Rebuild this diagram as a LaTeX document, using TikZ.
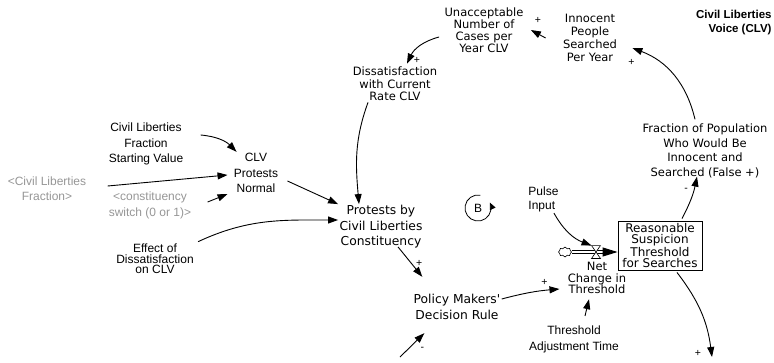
\documentclass[tikz,border=0pt]{standalone}
\usepackage{fontspec}
\setmainfont{Liberation Sans}
\newfontfamily\comic{DejaVu Sans}
\usetikzlibrary{arrows.meta, shapes.symbols}
\definecolor{shadow}{RGB}{150,150,150}

\begin{document}
\begin{tikzpicture}[x=1pt, y=1pt, >={Triangle[length=10pt,width=7pt]}, line width=0.9pt,
    var/.style={align=center, inner sep=1pt, font=\fontsize{12}{#1}\selectfont},
    var/.default=15.5,
    cvar/.style={align=center, inner sep=1pt, font=\comic\fontsize{11.5}{#1}\selectfont},
    cvar/.default=12.5,
    ghost/.style={var=#1, text=shadow},
    ghost/.default=15,
    pol/.style={inner sep=0pt, font=\fontsize{10.5}{10.5}\selectfont},
    pipe/.style={double, double distance=2pt, line width=0.6pt}]

    \useasboundingbox (0,0) rectangle (774,-362);

    \node[cvar=12] (unacc) at (484,-30) {Unacceptable\\Number of\\Cases per\\Year CLV};
    \node[cvar=13] (innoc) at (590,-38) {Innocent\\People\\Searched\\Per Year};
    \node[align=right, anchor=east, inner sep=1pt, font=\bfseries\fontsize{11.5}{14}\selectfont] (title) at (773,-23) {Civil Liberties\\Voice (CLV)};
    \node[cvar] (dissat) at (395,-84) {Dissatisfaction\\with Current\\Rate CLV};
    \node[cvar, font=\comic\fontsize{12.3}{15.5}\selectfont] (protest) at (381,-227) {Protests by\\Civil Liberties\\Constituency};
    \node[var] (startval) at (146,-144) {Civil Liberties\\Fraction\\Starting Value};
    \node[var] (clvnorm) at (256,-173) {CLV\\Protests\\Normal};
    \node[ghost] (clfrac) at (47,-189) {<Civil Liberties\\Fraction>};
    \node[ghost=16] (switch) at (150,-205) {<constituency\\switch (0 or 1)>};
    \node[var=10.5] (effect) at (155,-259) {Effect of\\Dissatisfaction\\on CLV};
    \node[var] (loopB) at (478,-208) {B};
    \node[var=14, anchor=west, align=left] (pulse) at (527,-199) {Pulse\\Input};
    \node[cloud, cloud puffs=8, aspect=1.3, draw, line width=0.6pt, minimum width=13pt, minimum height=10pt, inner sep=0pt] (cloud) at (565,-252) {};
    \node[minimum width=8pt, minimum height=12pt, inner sep=0pt] (valve) at (596,-252) {};
    \node[cvar=10, font=\comic\fontsize{12}{10.8}\selectfont, draw, minimum width=84pt, minimum height=49pt] (thresh) at (660,-245.5) {Reasonable\\Suspicion\\Threshold\\for Searches};
    \node[cvar=11.5] (netch) at (597,-278) {Net\\Change in\\Threshold};
    \node[cvar, font=\comic\fontsize{12.3}{16}\selectfont] (policy) at (457,-307) {Policy Makers'\\Decision Rule};
    \node[var=16] (thadj) at (574,-339) {Threshold\\Adjustment Time};
    \node[cvar=14.7] (fraction) at (705,-151) {Fraction of Population\\Who Would Be\\Innocent and\\Searched (False +)};
    \coordinate (polin) at (400,-357);
    \coordinate (throut) at (712,-357);

    \draw[->] ([xshift=-16pt]innoc.west) -- ([xshift=6pt]unacc.east) node[pol, xshift=7pt, yshift=10pt] {+};
    \draw[->] ([xshift=-4pt,yshift=-7pt]unacc.west) to[bend right=25] ([xshift=12pt,yshift=2pt]dissat.north) node[pol, xshift=10pt, yshift=3pt] {+};
    \draw[->] ([xshift=-27pt]dissat.south) to[out=250, in=95] ([xshift=-22pt]protest.north);
    \draw[->] ([xshift=16pt,yshift=9pt]startval.east) to[bend left=20] ([xshift=4pt]clvnorm.north west);
    \draw[->] ([xshift=20pt,yshift=3pt]clfrac.east) -- ([xshift=-5pt,yshift=-2pt]clvnorm.west);
    \draw[->] ([xshift=15pt,yshift=3pt]switch.east) -- ([xshift=-5pt,yshift=-21pt]clvnorm.west);
    \draw[->] ([xshift=8pt,yshift=-8pt]clvnorm.east) -- (protest.north west);
    \draw[->] ([xshift=3pt,yshift=1pt]effect.north east) to[out=25, in=180] ([yshift=7pt]protest.west);
    \draw[->] ([xshift=17pt,yshift=3pt]protest.south) -- ([xshift=10pt,yshift=16pt]policy.north west) node[pol, xshift=-3pt, yshift=13pt] {+};
    \draw[->] (polin) -- ([xshift=12pt,yshift=-12pt]policy.south west) node[pol, xshift=-2pt, yshift=-16pt] {-};
    \draw[->] ([yshift=8pt]policy.east) to[bend left=5] ([xshift=-7pt,yshift=-11pt]netch.west) node[pol, xshift=-15pt, yshift=7pt] {+};
    \draw[->] ([xshift=11pt,yshift=8pt]thadj.north) -- ([xshift=-8pt,yshift=-4pt]netch.south);

    \draw[->, >={Triangle[length=7pt,width=6pt]}, line width=0.8pt] ([shift={(80:13pt)}]loopB.center) arc[start angle=80, end angle=385, radius=13pt];

    \draw[pipe] (cloud.east) -- ([xshift=-14pt,yshift=-6.5pt]thresh.west);
    \draw[->, >={Triangle[length=15pt,width=9pt]}] ([xshift=-15pt,yshift=-6.5pt]thresh.west) -- ([yshift=-6.5pt]thresh.west);
    \draw[fill=white, line width=0.6pt] (valve.north west) -- (valve.north east) -- (valve.south west) -- (valve.south east) -- cycle;
    \draw[->] ([xshift=-6pt]pulse.south east) to[bend right=20] (valve.north west);

    \draw[->] ([xshift=22pt,yshift=2pt]thresh.north) to[bend right=8] ([xshift=-8pt,yshift=3pt]fraction.south) node[pol, xshift=-11pt, yshift=-13pt] {-};
    \draw[->] ([xshift=-10pt,yshift=3pt]fraction.north) to[bend right=28] ([xshift=14pt,yshift=-10pt]innoc.east) node[pol, xshift=-1pt, yshift=-14pt] {+};
    \draw[->] ([xshift=17pt,yshift=-2pt]thresh.south) to[bend left=15] (throut) node[pol, xshift=-14pt, yshift=4pt] {+};
\end{tikzpicture}
\end{document}
